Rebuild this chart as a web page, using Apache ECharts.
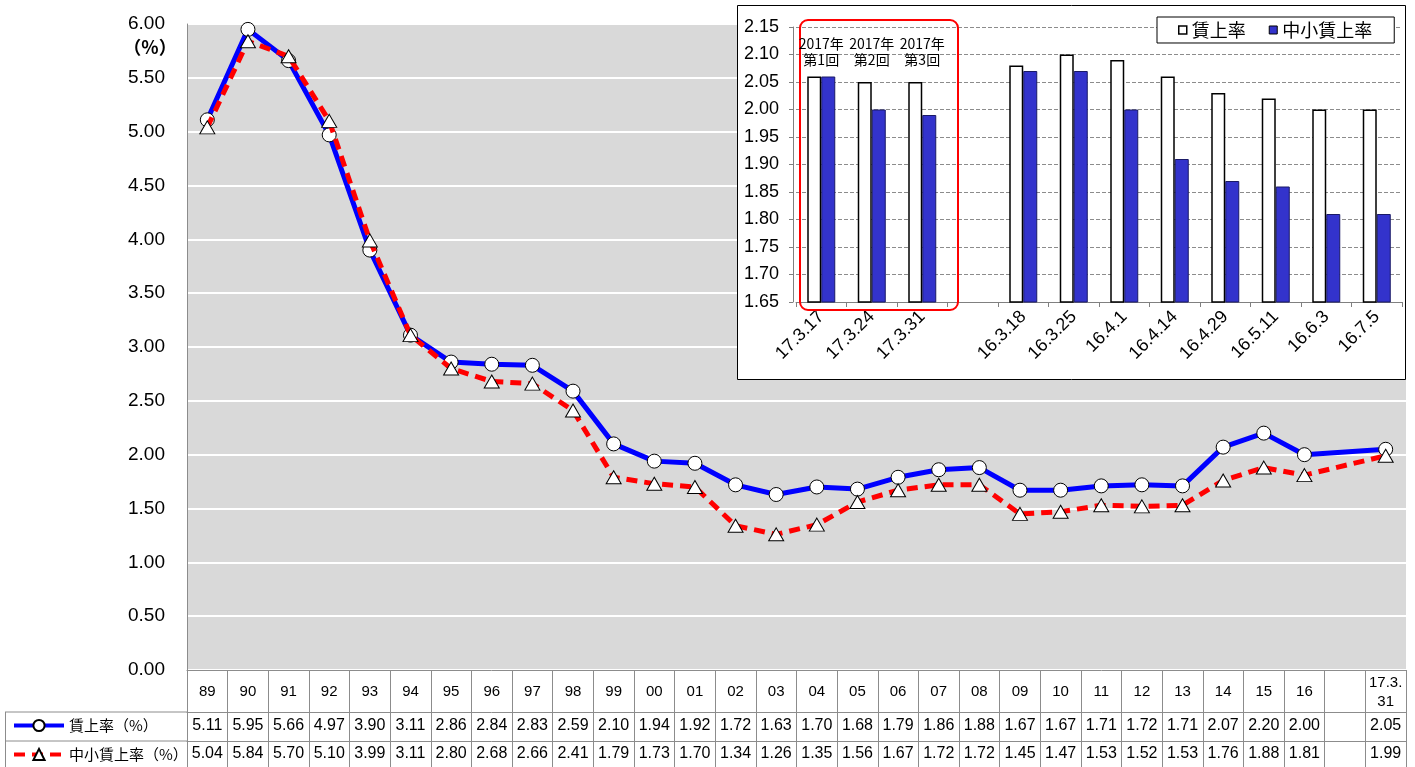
<!DOCTYPE html>
<html>
<head>
<meta charset="utf-8">
<script src="https://cdn.jsdelivr.net/npm/echarts@6.0.0/dist/echarts.min.js"></script>
<style>
html, body { margin: 0; padding: 0; background: #fff; }
#chart { width: 1415px; height: 767px; }
</style>
</head>
<body>
<div id="chart"></div>
<script>
// 主グラフ（年次）
const years = ['89', '90', '91', '92', '93', '94', '95', '96', '97', '98', '99',
  '00', '01', '02', '03', '04', '05', '06', '07', '08', '09', '10', '11', '12',
  '13', '14', '15', '16', '', '17.3.\n31']
const wage = [5.11, 5.95, 5.66, 4.97, 3.90, 3.11, 2.86, 2.84, 2.83, 2.59, 2.10,
  1.94, 1.92, 1.72, 1.63, 1.70, 1.68, 1.79, 1.86, 1.88, 1.67, 1.67, 1.71, 1.72,
  1.71, 2.07, 2.20, 2.00, null, 2.05]
const sme = [5.04, 5.84, 5.70, 5.10, 3.99, 3.11, 2.80, 2.68, 2.66, 2.41, 1.79,
  1.73, 1.70, 1.34, 1.26, 1.35, 1.56, 1.67, 1.72, 1.72, 1.45, 1.47, 1.53, 1.52,
  1.53, 1.76, 1.88, 1.81, null, 1.99]

// 差し込みグラフ（集計回）
const insetCats = ['17.3.17', '17.3.24', '17.3.31', '', '16.3.18', '16.3.25',
  '16.4.1', '16.4.14', '16.4.29', '16.5.11', '16.6.3', '16.7.5']
const insetWage = [2.06, 2.05, 2.05, null, 2.08, 2.10, 2.09, 2.06, 2.03, 2.02, 2.00, 2.00]
const insetSme = [2.06, 2.00, 1.99, null, 2.07, 2.07, 2.00, 1.91, 1.87, 1.86, 1.81, 1.81]
const roundLabels = ['2017年\n第1回', '2017年\n第2回', '2017年\n第3回']

const FONT = "'Liberation Sans', 'Noto Sans CJK JP', sans-serif"
const CJK = "'Noto Sans CJK JP', sans-serif"
const LINE_GREY = '#8c8c8c'
const fmt = v => (v == null ? '' : v.toFixed(2))

const chart = echarts.init(document.getElementById('chart'))

// 表の左列に置く凡例（1行ずつ）
const rowLegend = (name, top) => ({
  data: [name],
  left: 12,
  top: top,
  padding: 0,
  itemWidth: 50,
  itemHeight: 14,
  lineStyle: { width: 4 },
  textStyle: { fontSize: 15, color: '#000', fontFamily: CJK }
})

const option = {
  animation: false,
  textStyle: { fontFamily: FONT },
  grid: [
    { left: 187, right: 9, top: 24, bottom: 97, show: true, backgroundColor: '#d9d9d9', borderWidth: 0 },
    { left: 796, right: 13, top: 27, bottom: 465, z: 5 }
  ],
  legend: [
    rowLegend('賃上率（%）', 718),
    rowLegend('中小賃上率（%）', 747),
    {
      data: [
        { name: '賃上率', icon: 'rect', itemStyle: { color: '#fff', borderColor: '#000', borderWidth: 1.5 } },
        { name: '中小賃上率', icon: 'rect', itemStyle: { color: '#3333cc', borderColor: '#000', borderWidth: 1 } }
      ],
      left: 1157,
      top: 17,
      itemWidth: 8,
      itemHeight: 8,
      itemGap: 23,
      padding: [4, 22, 4, 21],
      borderColor: '#000',
      borderWidth: 1,
      backgroundColor: '#fff',
      textStyle: { fontSize: 18, color: '#000', fontFamily: CJK },
      z: 8
    }
  ],
  xAxis: [
    {
      gridIndex: 0, type: 'category', data: years, position: 'bottom',
      axisLine: { show: true, lineStyle: { color: LINE_GREY } },
      axisTick: { show: true, interval: 0, length: 97, lineStyle: { color: LINE_GREY } },
      axisLabel: { interval: 0, margin: 22, verticalAlign: 'middle', fontSize: 15, lineHeight: 19, color: '#000' }
    },
    {
      gridIndex: 0, type: 'category', data: years, position: 'bottom', offset: 42,
      axisLine: { show: true, lineStyle: { color: LINE_GREY } },
      axisTick: { show: false },
      axisLabel: { interval: 0, margin: 14, verticalAlign: 'middle', fontSize: 16, color: '#000',
        formatter: (v, i) => fmt(wage[i]) }
    },
    {
      gridIndex: 0, type: 'category', data: years, position: 'bottom', offset: 71,
      axisLine: { show: true, lineStyle: { color: LINE_GREY } },
      axisTick: { show: false },
      axisLabel: { interval: 0, margin: 13, verticalAlign: 'middle', fontSize: 16, color: '#000',
        formatter: (v, i) => fmt(sme[i]) }
    },
    {
      gridIndex: 1, type: 'category', data: insetCats, z: 5,
      axisLine: { show: true, lineStyle: { color: '#808080' } },
      axisTick: { show: true, interval: 0, length: 5, lineStyle: { color: '#808080' } },
      axisLabel: { interval: 0, rotate: 45, margin: 12, fontSize: 18, color: '#000' }
    }
  ],
  yAxis: [
    {
      gridIndex: 0, type: 'value', min: 0, max: 6, interval: 0.5,
      axisLine: { show: true, lineStyle: { color: LINE_GREY } },
      axisTick: { show: false },
      axisLabel: { formatter: v => v.toFixed(2), fontSize: 19, color: '#000', margin: 22 },
      splitLine: { show: true, lineStyle: { color: '#fff', width: 2 } }
    },
    {
      gridIndex: 1, type: 'value', min: 1.65, max: 2.15, interval: 0.05, offset: 3, z: 5,
      axisLine: { show: true, lineStyle: { color: '#808080' } },
      axisTick: { show: true, length: 4, lineStyle: { color: '#808080' } },
      axisLabel: { formatter: v => v.toFixed(2), fontSize: 18, color: '#000', margin: 14 },
      splitLine: { show: true, lineStyle: { color: '#8c8c8c', type: 'dashed' } }
    }
  ],
  series: [
    {
      name: '賃上率（%）', type: 'line', xAxisIndex: 0, yAxisIndex: 0,
      data: wage, connectNulls: true,
      symbol: 'circle', symbolSize: 14,
      lineStyle: { color: '#0000ff', width: 5 },
      itemStyle: { color: '#fff', borderColor: '#000', borderWidth: 1 },
      z: 2
    },
    {
      name: '中小賃上率（%）', type: 'line', xAxisIndex: 0, yAxisIndex: 0,
      data: sme, connectNulls: true,
      symbol: 'triangle', symbolSize: [15, 13],
      lineStyle: { color: '#ff0000', width: 5, type: [11, 7] },
      itemStyle: { color: '#fff', borderColor: '#000', borderWidth: 1 },
      z: 3
    },
    {
      name: '賃上率', type: 'bar', xAxisIndex: 3, yAxisIndex: 1,
      data: insetWage, barWidth: 14, barGap: '0%',
      itemStyle: { color: '#fff', borderColor: '#000', borderWidth: 1.5 },
      z: 6
    },
    {
      name: '中小賃上率', type: 'bar', xAxisIndex: 3, yAxisIndex: 1,
      data: insetSme, barWidth: 14,
      itemStyle: { color: '#3333cc', borderColor: '#1a1a66', borderWidth: 1 },
      z: 6
    }
  ],
  graphic: [
    // 単位
    { type: 'text', x: 150, y: 47, z: 10,
      style: { text: '（%）', font: 'bold 18px ' + CJK, fill: '#000', align: 'center', verticalAlign: 'middle' } },
    // 表の左列の罫線
    { type: 'line', z: 10, shape: { x1: 5, y1: 712, x2: 187, y2: 712 }, style: { stroke: LINE_GREY, lineWidth: 1 } },
    { type: 'line', z: 10, shape: { x1: 5, y1: 741, x2: 187, y2: 741 }, style: { stroke: LINE_GREY, lineWidth: 1 } },
    { type: 'line', z: 10, shape: { x1: 5.5, y1: 712, x2: 5.5, y2: 767 }, style: { stroke: LINE_GREY, lineWidth: 1 } },
    // 差し込みグラフの枠
    { type: 'rect', z: 3, shape: { x: 737.5, y: 5.5, width: 668, height: 374 },
      style: { fill: '#fff', stroke: '#000', lineWidth: 1 } },
    // 2017年集計の赤枠
    { type: 'rect', z: 9, shape: { x: 800, y: 20, width: 158, height: 290, r: 8 },
      style: { fill: 'none', stroke: '#ff0000', lineWidth: 2 } }
  ]
}

chart.setOption(option)

// 赤枠内の回数ラベルはカテゴリ位置から配置
const labelGraphics = roundLabels.map((t, i) => {
  const x = chart.convertToPixel({ xAxisIndex: 3 }, insetCats[i])
  return { type: 'text', x: x, y: 52, z: 10,
    style: { text: t, font: '14px ' + CJK, fill: '#000', align: 'center', verticalAlign: 'middle', lineHeight: 16 } }
})
chart.setOption({ graphic: option.graphic.concat(labelGraphics) })
</script>
</body>
</html>
